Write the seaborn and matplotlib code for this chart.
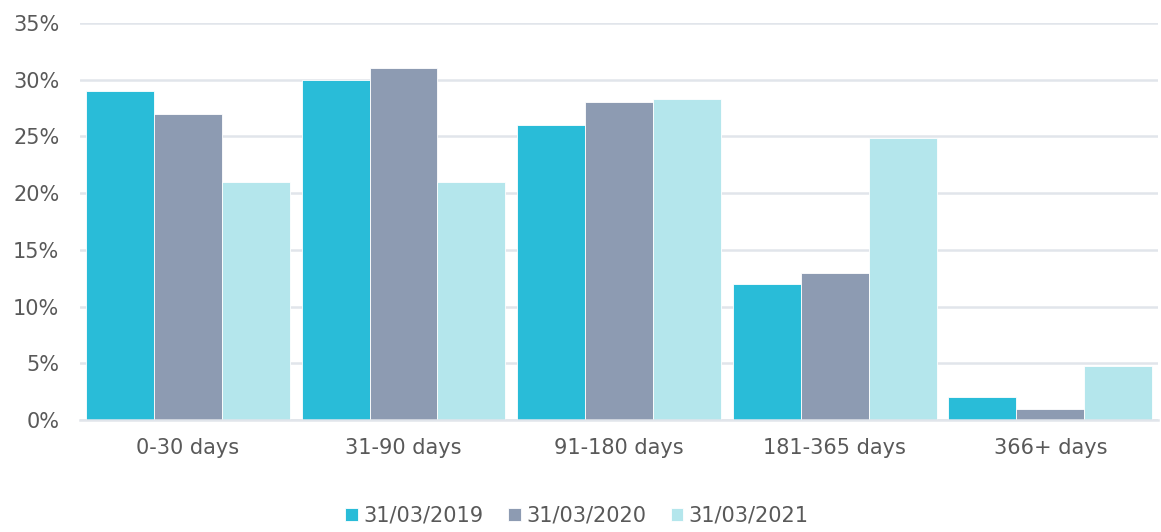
import pandas as pd
import matplotlib.pyplot as plt
import seaborn as sns
from matplotlib.ticker import FuncFormatter

# Dados
categorias = ['0-30 days', '31-90 days', '91-180 days', '181-365 days', '366+ days']
datas = ['31/03/2019', '31/03/2020', '31/03/2021']
v2019 = [29, 30, 26, 12, 2]
v2020 = [27, 31, 28, 13, 1]
v2021 = [21, 21, 28.3, 24.85, 4.8]
cores = ['#29BCD8', '#8D9BB2', '#B4E6EC']

df = pd.DataFrame({
    'categoria': categorias * 3,
    'data': [datas[0]] * 5 + [datas[1]] * 5 + [datas[2]] * 5,
    'valor': v2019 + v2020 + v2021,
})

sns.set_style('white')
plt.rcParams['font.family'] = ['DejaVu Sans']
texto = '#595959'
fs = 15

fig = plt.figure(figsize=(11.61, 5.32), dpi=100)
ax = fig.add_axes([0.069, 0.2105, 0.9285, 0.7463])

sns.barplot(data=df, x='categoria', y='valor', hue='data', palette=cores,
            saturation=1, width=0.945, edgecolor='white', linewidth=0.6,
            ax=ax, legend=True)

ax.set_ylim(0, 35)
ax.set_yticks(range(0, 36, 5))
ax.yaxis.set_major_formatter(FuncFormatter(lambda v, p: f'{v:.0f}%'))
ax.set_xlim(-0.5, 4.5)
ax.grid(axis='y', color='#E1E5EB', linewidth=1.8)
ax.set_axisbelow(True)
for s in ['left', 'right', 'top']:
    ax.spines[s].set_visible(False)
ax.spines['bottom'].set_color('#E1E5EB')
ax.spines['bottom'].set_linewidth(1.8)
ax.tick_params(axis='y', length=0, pad=15, labelsize=fs, labelcolor=texto)
ax.tick_params(axis='x', length=0, pad=13, labelsize=fs, labelcolor=texto)
ax.set_xlabel('')
ax.set_ylabel('')

handles, labels = ax.get_legend_handles_labels()
ax.get_legend().remove()
fig.legend(handles, labels, loc='center', bbox_to_anchor=(0.497, 0.031), ncol=3,
           frameon=False, fontsize=fs, labelcolor=texto,
           handlelength=0.6, handleheight=0.6, handletextpad=0.25, columnspacing=1.2)

fig.savefig('out.png', dpi=100)
